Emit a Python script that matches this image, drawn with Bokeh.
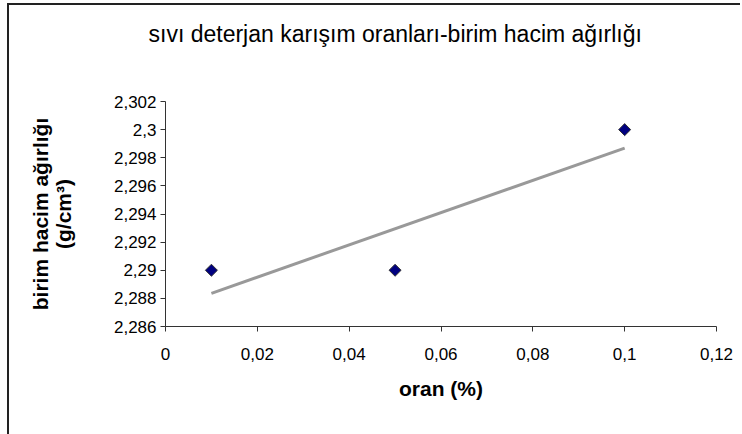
import numpy as np
from bokeh.plotting import figure
from bokeh.models import FixedTicker, Range1d, Title
from bokeh.embed import file_html
from bokeh.resources import INLINE

# data
oran = [0.01, 0.05, 0.1]
agirlik = [2.29, 2.29, 2.30]

x_ticks = [0, 0.02, 0.04, 0.06, 0.08, 0.1, 0.12]
x_tick_labels = ["0", "0,02", "0,04", "0,06", "0,08", "0,1", "0,12"]
y_ticks = [2.286, 2.288, 2.29, 2.292, 2.294, 2.296, 2.298, 2.3, 2.302]
y_tick_labels = ["2,286", "2,288", "2,29", "2,292", "2,294", "2,296", "2,298", "2,3", "2,302"]

title_text = "sıvı deterjan karışım oranları-birim hacim ağırlığı"
x_label = "oran (%)"
y_label = "birim hacim ağırlığı\n(g/cm³)"

FONT = "Liberation Sans"

p = figure(width=733, height=431, output_backend="svg", toolbar_location=None,
           x_range=Range1d(0, 0.12), y_range=Range1d(2.286, 2.302),
           min_border_left=156, min_border_right=26, min_border_top=96,
           min_border_bottom=110, title=None)
p.styles = {"border-left": "2px solid #222222", "border-top": "2px solid #222222",
            "margin-left": "7px", "margin-top": "3px"}

# spacer between frame and title
spacer = Title(text=" ", text_font_size="34px", text_font=FONT)
p.add_layout(spacer, "above")
main_title = Title(text=title_text, text_font=FONT, text_font_size="23px",
                   text_font_style="normal", text_color="black",
                   align="left", offset=-17)
p.add_layout(main_title, "above")

p.outline_line_color = None
p.xgrid.grid_line_color = None
p.ygrid.grid_line_color = None
p.background_fill_color = "white"
p.border_fill_color = "white"

for ax in (p.xaxis[0], p.yaxis[0]):
    ax.axis_line_color = "#333333"
    ax.major_tick_line_color = "#333333"
    ax.minor_tick_line_color = None
    ax.major_tick_out = 5
    ax.major_tick_in = 0
    ax.major_label_text_font = FONT
    ax.major_label_text_font_size = "17px"
    ax.major_label_text_color = "black"
    ax.axis_label_text_font = FONT
    ax.axis_label_text_font_size = "21px"
    ax.axis_label_text_font_style = "bold"
    ax.axis_label_text_color = "black"

p.xaxis.ticker = FixedTicker(ticks=x_ticks)
p.xaxis.major_label_overrides = dict(zip(x_ticks, x_tick_labels))
p.xaxis.axis_label = x_label
p.xaxis.major_label_standoff = 16
p.xaxis.axis_label_standoff = 14

p.yaxis.ticker = FixedTicker(ticks=y_ticks)
p.yaxis.major_label_overrides = dict(zip(y_ticks, y_tick_labels))
p.yaxis.axis_label = y_label
p.yaxis.axis_label_text_line_height = 1.0
p.yaxis.major_label_standoff = 4
p.yaxis.axis_label_standoff = 36

# linear trend line computed from data
slope, intercept = np.polyfit(oran, agirlik, 1)
tx = [min(oran), max(oran)]
ty = [slope * v + intercept for v in tx]
p.line(tx, ty, line_color="#999999", line_width=3)

p.scatter(oran, agirlik, marker="square", angle=np.pi / 4, size=8.5,
          fill_color="#000080", line_color="#333333", line_width=1)

open("out.html", "w").write(file_html(p, INLINE))
